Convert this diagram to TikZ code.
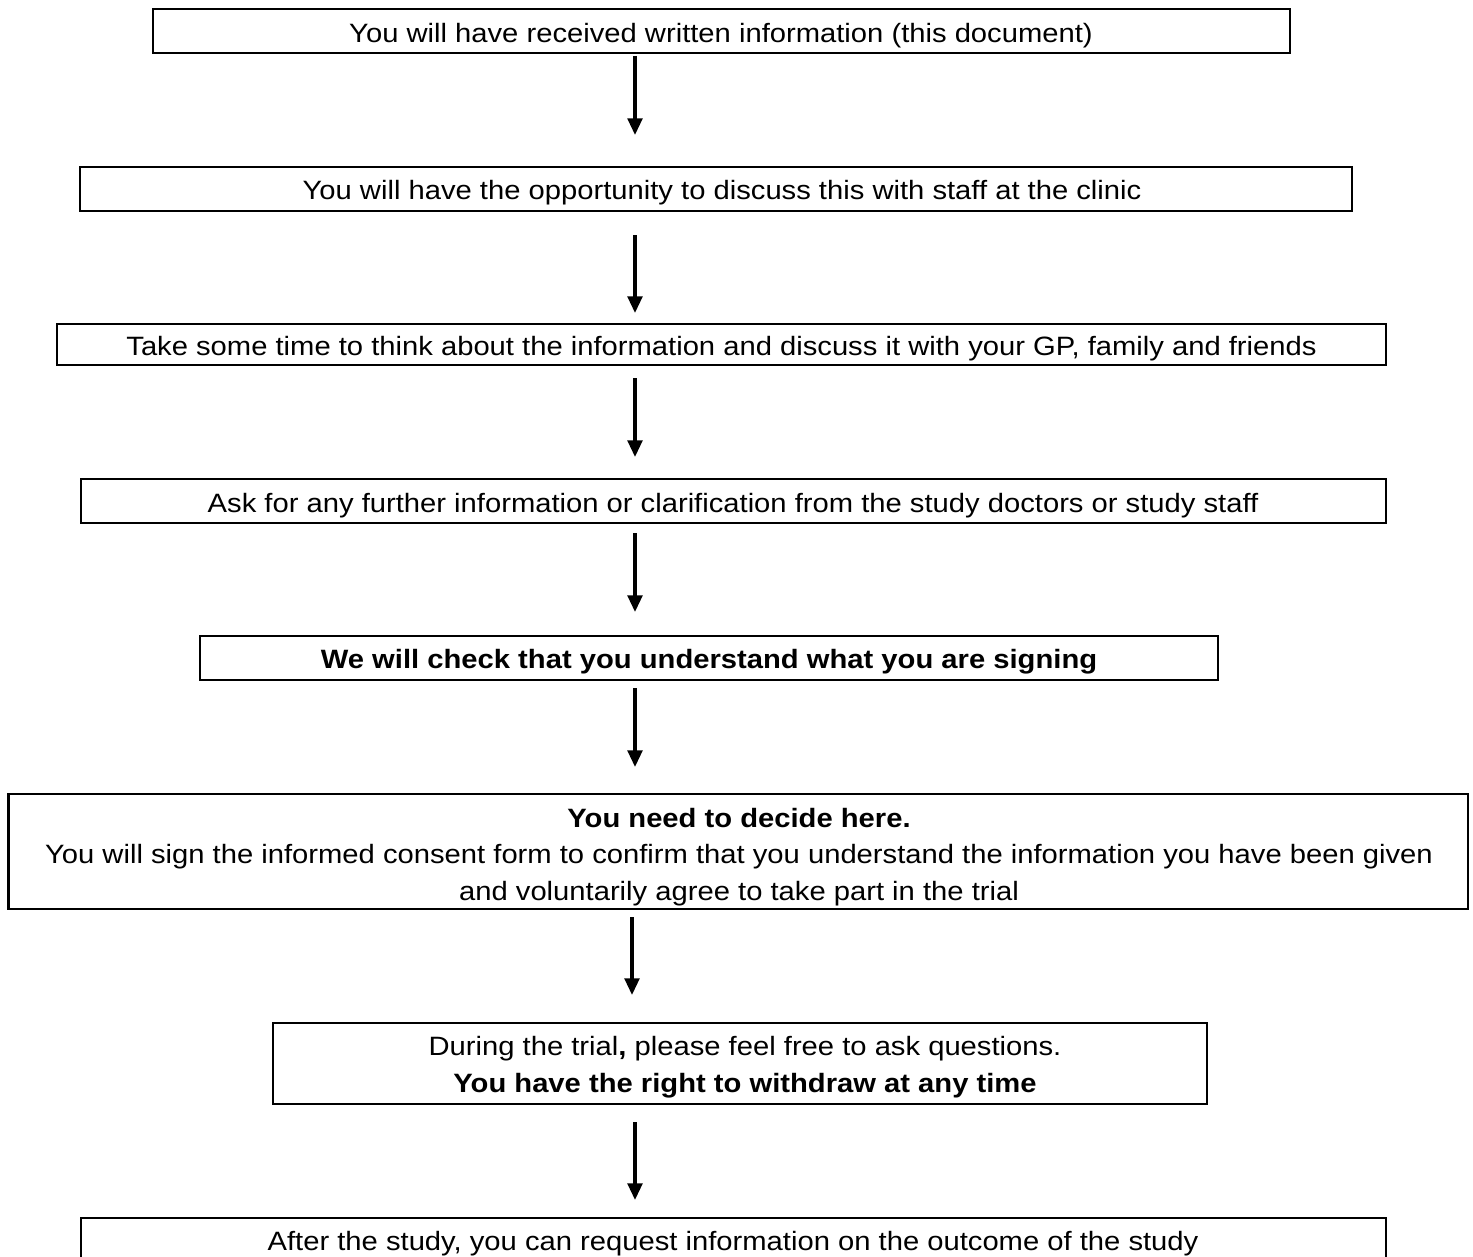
\documentclass[tikz,border=0pt]{standalone}
\usepackage{fontspec}
\setmainfont{Liberation Sans}[FakeStretch=1.1]
\usetikzlibrary{arrows.meta}
\begin{document}
\begin{tikzpicture}[x=0.75pt,y=-0.75pt,
  stepbox/.style={draw=black,line width=1.6pt,fill=none},
  txt/.style={anchor=base,inner sep=0pt,font=\fontsize{19.9pt}{28pt}\selectfont},
  btxt/.style={txt,font=\fontsize{19.9pt}{28pt}\selectfont\bfseries},
  flow/.style={line width=2.5pt,-{Triangle[length=12.5pt,width=11pt]}}]
\useasboundingbox (0,0) rectangle (1473,1256);
\clip (0,0) rectangle (1473,1256);
% boxes
\draw[stepbox] (153,9) rectangle (1290,53);
\draw[stepbox] (80,167) rectangle (1352,211);
\draw[stepbox] (57,324) rectangle (1386,365);
\draw[stepbox] (81,479) rectangle (1386,523);
\draw[stepbox] (200,636) rectangle (1218,680);
\draw[stepbox] (8.5,794) rectangle (1468,909);
\draw[stepbox] (273,1023) rectangle (1207,1104);
\draw[stepbox] (81,1218) rectangle (1386,1275);
% texts
\node[txt] (t1) at (721,43) {You will have received written information (this document)};
\node[txt] (t2) at (722,199) {You will have the opportunity to discuss this with staff at the clinic};
\node[txt] (t3) at (721.5,355) {Take some time to think about the information and discuss it with your GP, family and friends};
\node[txt] (t4) at (733,512) {Ask for any further information or clarification from the study doctors or study staff};
\node[btxt] (t5) at (709,668) {We will check that you understand what you are signing};
\node[btxt] (t6a) at (739,827) {You need to decide here.};
\node[txt] (t6b) at (739,863) {You will sign the informed consent form to confirm that you understand the information you have been given};
\node[txt] (t6c) at (739,900) {and voluntarily agree to take part in the trial};
\node[txt] (t7a) at (745,1055) {During the trial\textbf{,} please feel free to ask questions.};
\node[btxt] (t7b) at (745,1092) {You have the right to withdraw at any time};
\node[txt] (t8) at (733,1250) {After the study, you can request information on the outcome of the study};
% arrow end points
\coordinate (a1s) at (635,56);   \coordinate (a1e) at (635,135);
\coordinate (a2s) at (635,235);  \coordinate (a2e) at (635,313);
\coordinate (a3s) at (635,378);  \coordinate (a3e) at (635,457);
\coordinate (a4s) at (635,533);  \coordinate (a4e) at (635,612);
\coordinate (a5s) at (635,688);  \coordinate (a5e) at (635,767);
\coordinate (a6s) at (632,917);  \coordinate (a6e) at (632,995);
\coordinate (a7s) at (635,1122); \coordinate (a7e) at (635,1200);
\draw[flow] (a1s) -- (a1e);
\draw[flow] (a2s) -- (a2e);
\draw[flow] (a3s) -- (a3e);
\draw[flow] (a4s) -- (a4e);
\draw[flow] (a5s) -- (a5e);
\draw[flow] (a6s) -- (a6e);
\draw[flow] (a7s) -- (a7e);
\end{tikzpicture}
\end{document}
